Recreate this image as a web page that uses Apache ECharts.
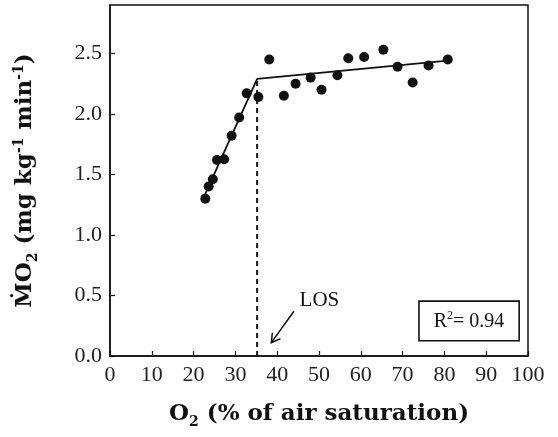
<!DOCTYPE html>
<html>
<head>
<meta charset="utf-8">
<script src="https://cdn.jsdelivr.net/npm/echarts@6/dist/echarts.min.js"></script>
<style>
  html, body { margin: 0; padding: 0; background: #fff; }
  #chart { width: 558px; height: 437px; }
</style>
</head>
<body>
<div id="chart"></div>
<script>
// Oxygen uptake measured across falling O2 saturation
const o2Sat = [22.8, 23.6, 24.6, 25.6, 27.3, 29.1, 30.9, 32.7, 35.5, 38.1, 41.6, 44.4, 48.0, 50.6, 54.4, 57.0, 60.8, 65.4, 68.8, 72.4, 76.2, 80.8];
const mo2   = [1.30, 1.40, 1.46, 1.62, 1.625, 1.82, 1.97, 2.17, 2.14, 2.45, 2.15, 2.25, 2.30, 2.20, 2.32, 2.46, 2.47, 2.53, 2.39, 2.26, 2.40, 2.45];

// Two-segment regression: oxygen-dependent and oxygen-independent parts
const fitX = [22.8, 35.2, 80.8];
const fitY = [1.34, 2.29, 2.44];

// Limiting oxygen saturation (break point)
const losX = 35.2;
const losY = 2.29;

// Annotation anchors
const losLabelPos = [50.1, 0.46];
const arrowTail = [44.0, 0.37];
const arrowHead = [38.6, 0.11];
const r2Pos = [85.9, 0.29];
const r2Text = '0.94';

const xTicks = [0, 10, 20, 30, 40, 50, 60, 70, 80, 90, 100];
const yTicks = [0.0, 0.5, 1.0, 1.5, 2.0, 2.5];

const serif = '"Liberation Serif", "DejaVu Serif", serif';
const titleFont = '"DejaVu Serif", serif';
const ink = '#111';

const chart = echarts.init(document.getElementById('chart'), null, { renderer: 'canvas' });

const titleRich = {
  b:   { fontFamily: titleFont, fontWeight: 'bold', fontSize: 23, color: ink, lineHeight: 30, verticalAlign: 'middle' },
  sub: { fontFamily: titleFont, fontWeight: 'bold', fontSize: 14, color: ink, lineHeight: 30, verticalAlign: 'bottom' },
  sup: { fontFamily: titleFont, fontWeight: 'bold', fontSize: 14, color: ink, lineHeight: 30, verticalAlign: 'top', padding: [2, 0, 0, 0] }
};

const option = {
  backgroundColor: '#fff',
  animation: false,
  grid: {
    left: 110, right: 30, top: 5, bottom: 81,
    show: true, borderColor: ink, borderWidth: 1.5, backgroundColor: 'transparent'
  },
  xAxis: {
    type: 'value',
    min: xTicks[0], max: xTicks[xTicks.length - 1], interval: 10,
    axisLine: { show: true, lineStyle: { color: ink, width: 1.5 } },
    axisTick: { show: true, inside: true, length: 5, lineStyle: { color: ink, width: 1.2 } },
    axisLabel: { color: '#222', fontFamily: serif, fontSize: 22, margin: 8,
      formatter: v => xTicks.includes(v) ? String(v) : '' },
    splitLine: { show: false },
    name: '{b|O}{sub|2}{b| (% of air saturation)}',
    nameLocation: 'middle',
    nameGap: 43,
    nameTextStyle: { rich: titleRich }
  },
  yAxis: {
    type: 'value',
    min: 0, max: 2.9, interval: 0.5,
    axisLine: { show: true, lineStyle: { color: ink, width: 1.5 } },
    axisTick: { show: true, inside: true, length: 5, lineStyle: { color: ink, width: 1.2 } },
    axisLabel: { color: '#222', fontFamily: serif, fontSize: 22, margin: 8, showMaxLabel: false,
      formatter: v => yTicks.some(t => Math.abs(t - v) < 1e-9) ? v.toFixed(1) : '' },
    splitLine: { show: false },
    name: '{b|Ṁ}{b|O}{sub|2}{b| (mg kg}{sup|-1}{b| min}{sup|-1}{b|)}',
    nameLocation: 'middle',
    nameRotate: 90,
    nameGap: 70,
    nameTextStyle: { rich: titleRich }
  },
  series: [
    {
      name: 'MO2',
      type: 'scatter',
      data: o2Sat.map((x, i) => [x, mo2[i]]),
      symbol: 'circle',
      symbolSize: 10,
      itemStyle: { color: '#111', opacity: 1 },
      z: 5
    },
    {
      name: 'fit',
      type: 'line',
      data: fitX.map((x, i) => [x, fitY[i]]),
      showSymbol: false,
      lineStyle: { color: ink, width: 1.8 },
      z: 4
    },
    {
      name: 'LOS',
      type: 'line',
      data: [[losX, 0], [losX, losY]],
      showSymbol: false,
      lineStyle: { color: ink, width: 2, type: [5, 4] },
      z: 3
    },
    {
      name: 'notes',
      type: 'scatter',
      symbolSize: 0,
      silent: true,
      z: 6,
      itemStyle: { opacity: 1 },
      data: [
        {
          value: losLabelPos,
          label: { show: true, position: 'inside', formatter: 'LOS',
            fontFamily: serif, fontSize: 21, color: ink }
        },
        {
          value: r2Pos,
          label: {
            show: true, position: 'inside',
            formatter: '{t|R}{s|2}{t|= ' + r2Text + '}',
            borderColor: ink, borderWidth: 1.6, padding: [8, 14, 7, 14],
            backgroundColor: '#fff',
            rich: {
              t: { fontFamily: serif, fontSize: 20, color: ink, lineHeight: 23, verticalAlign: 'middle' },
              s: { fontFamily: serif, fontSize: 12, color: ink, lineHeight: 23, verticalAlign: 'top' }
            }
          }
        }
      ]
    }
  ]
};

chart.setOption(option);

// Open arrow pointing at the break point on the x axis
function drawArrow() {
  const t = chart.convertToPixel({ gridIndex: 0 }, arrowTail);
  const h = chart.convertToPixel({ gridIndex: 0 }, arrowHead);
  const ang = Math.atan2(t[1] - h[1], t[0] - h[0]);
  const len = 10, spread = Math.PI / 6;
  const w1 = [h[0] + len * Math.cos(ang + spread), h[1] + len * Math.sin(ang + spread)];
  const w2 = [h[0] + len * Math.cos(ang - spread), h[1] + len * Math.sin(ang - spread)];
  const st = { stroke: ink, lineWidth: 1.5, fill: null };
  chart.setOption({
    graphic: [
      { type: 'polyline', shape: { points: [t, h] }, style: st, z: 10 },
      { type: 'polyline', shape: { points: [w1, h, w2] }, style: st, z: 10 }
    ]
  });
}
drawArrow();
</script>
</body>
</html>
